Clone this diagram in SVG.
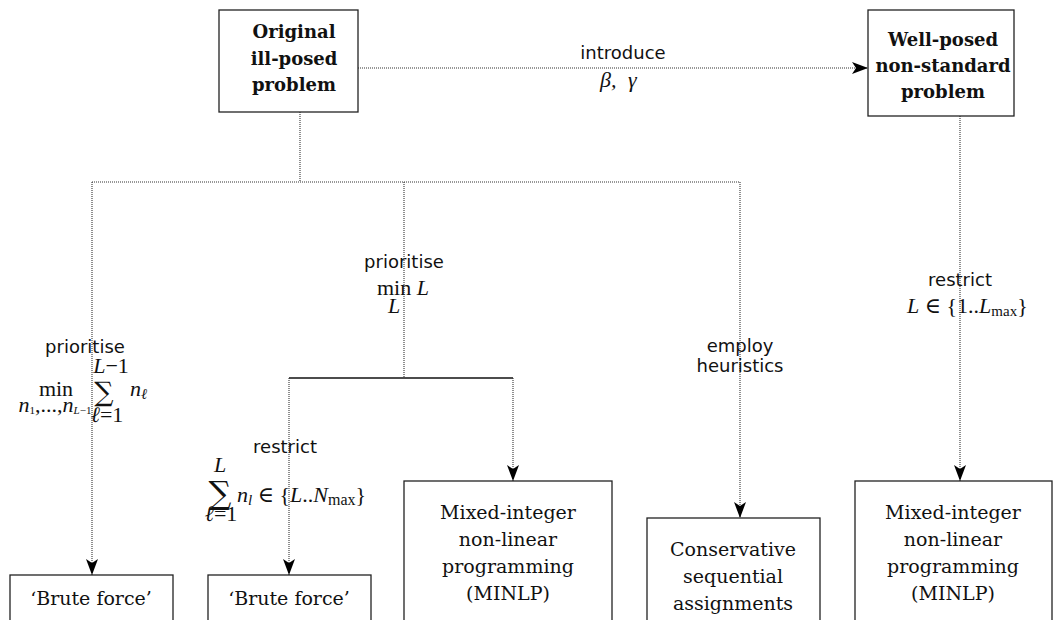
<svg xmlns="http://www.w3.org/2000/svg" width="1055" height="620" viewBox="0 0 1055 620">
<style>
.box{fill:#fff;stroke:#222;stroke-width:1.3}
.t{font-family:"DejaVu Serif","Liberation Serif",serif;font-size:19px;fill:#111;text-anchor:middle}
.tb{font-family:"DejaVu Serif","Liberation Serif",serif;font-size:18px;font-weight:bold;fill:#111;text-anchor:middle}
.lab{font-family:"DejaVu Sans","Liberation Sans",sans-serif;font-size:18px;fill:#111;text-anchor:middle}
.m{font-family:"Liberation Serif","DejaVu Serif",serif;font-size:22px;fill:#111}
.sum{font-family:"DejaVu Serif",serif;fill:#111;text-anchor:middle}
.mi{font-style:italic}
.dot{fill:none;stroke:#333;stroke-width:1.1;stroke-dasharray:1 1}
.sol{fill:none;stroke:#111;stroke-width:1.5}
</style>
<defs>
<marker id="ah" viewBox="0 0 16 12" refX="16" refY="6" markerWidth="16" markerHeight="12" markerUnits="userSpaceOnUse" orient="auto">
<path d="M0,0 L16,6 L0,12 L4,6 z" fill="#000"/>
</marker>
</defs>

<g id="connectors">
<path class="dot" d="M358,68 H868" marker-end="url(#ah)"/>
<path class="dot" d="M300,112 V182"/>
<path class="dot" d="M92,182 H740"/>
<path class="dot" d="M92,182 V575" marker-end="url(#ah)"/>
<path class="dot" d="M404,182 V378"/>
<path class="dot" d="M740,182 V518" marker-end="url(#ah)"/>
<path class="sol" d="M289,378 H513"/>
<path class="dot" d="M289,378 V575" marker-end="url(#ah)"/>
<path class="dot" d="M513,378 V481" marker-end="url(#ah)"/>
<path class="dot" d="M960,116 V481" marker-end="url(#ah)"/>
</g>

<g id="labels">
<text class="lab" x="623" y="59">introduce</text>
<text class="m mi" x="600" y="87">β,</text>
<text class="m mi" x="628" y="87">γ</text>

<text class="lab" x="85" y="353">prioritise</text>
<text class="m" x="56" y="396" text-anchor="middle">min</text>
<text class="m" x="55" y="412" font-size="15" text-anchor="middle"><tspan class="mi">n</tspan><tspan font-size="11" dy="2">1</tspan><tspan dy="-2">,...,</tspan><tspan class="mi">n</tspan><tspan font-size="11" dy="2" class="mi">L</tspan><tspan font-size="11">−1</tspan></text>
<text class="sum" x="104" y="401" font-size="27">∑</text>
<text class="m" x="111" y="373" font-size="15" text-anchor="middle"><tspan class="mi">L</tspan>−1</text>
<text class="m" x="107" y="422" font-size="14" text-anchor="middle"><tspan class="mi">ℓ</tspan>=1</text>
<text class="m mi" x="130" y="396">n<tspan font-size="15" dy="3">ℓ</tspan></text>

<text class="lab" x="404" y="268">prioritise</text>
<text class="m" x="377" y="295">min <tspan class="mi">L</tspan></text>
<text class="m mi" x="394" y="313" font-size="15" text-anchor="middle">L</text>

<text class="lab" x="285" y="453">restrict</text>
<text class="sum" x="220" y="504" font-size="32">∑</text>
<text class="m mi" x="220" y="472" font-size="15" text-anchor="middle">L</text>
<text class="m" x="221" y="521" font-size="14" text-anchor="middle"><tspan class="mi">ℓ</tspan>=1</text>
<text class="m" x="237" y="502"><tspan class="mi">n</tspan><tspan class="mi" font-size="15" dy="3">l</tspan><tspan dy="-3"> ∈ {</tspan><tspan class="mi">L</tspan>..<tspan class="mi">N</tspan><tspan font-size="16" dy="3">max</tspan><tspan dy="-3">}</tspan></text>

<text class="lab" x="740" y="352">employ</text>
<text class="lab" x="740" y="372">heuristics</text>

<text class="lab" x="960" y="286">restrict</text>
<text class="m" x="907" y="313" font-size="21"><tspan class="mi">L</tspan> ∈ {1..<tspan class="mi">L</tspan><tspan font-size="15" dy="3">max</tspan><tspan dy="-3">}</tspan></text>
</g>

<g id="n-original">
<rect class="box" x="219" y="10" width="139" height="102"/>
<text class="tb" x="294" y="38">Original</text>
<text class="tb" x="294" y="65">ill-posed</text>
<text class="tb" x="294" y="91">problem</text>
</g>

<g id="n-wellposed">
<rect class="box" x="868" y="10" width="146" height="106"/>
<text class="tb" x="943" y="46">Well-posed</text>
<text class="tb" x="943" y="72">non-standard</text>
<text class="tb" x="943" y="98">problem</text>
</g>

<g id="n-brute1">
<rect class="box" x="10" y="575" width="163" height="70"/>
<text class="t" x="91" y="605">‘Brute force’</text>
</g>

<g id="n-brute2">
<rect class="box" x="208" y="575" width="163" height="70"/>
<text class="t" x="289" y="605">‘Brute force’</text>
</g>

<g id="n-minlp1">
<rect class="box" x="404" y="481" width="208" height="170"/>
<text class="t" x="508" y="519">Mixed-integer</text>
<text class="t" x="508" y="546">non-linear</text>
<text class="t" x="508" y="573">programming</text>
<text class="t" x="508" y="600">(MINLP)</text>
</g>

<g id="n-conservative">
<rect class="box" x="647" y="518" width="173" height="130"/>
<text class="t" x="733" y="556">Conservative</text>
<text class="t" x="733" y="583">sequential</text>
<text class="t" x="733" y="610">assignments</text>
</g>

<g id="n-minlp2">
<rect class="box" x="855" y="481" width="197" height="170"/>
<text class="t" x="953" y="519">Mixed-integer</text>
<text class="t" x="953" y="546">non-linear</text>
<text class="t" x="953" y="573">programming</text>
<text class="t" x="953" y="600">(MINLP)</text>
</g>
</svg>
